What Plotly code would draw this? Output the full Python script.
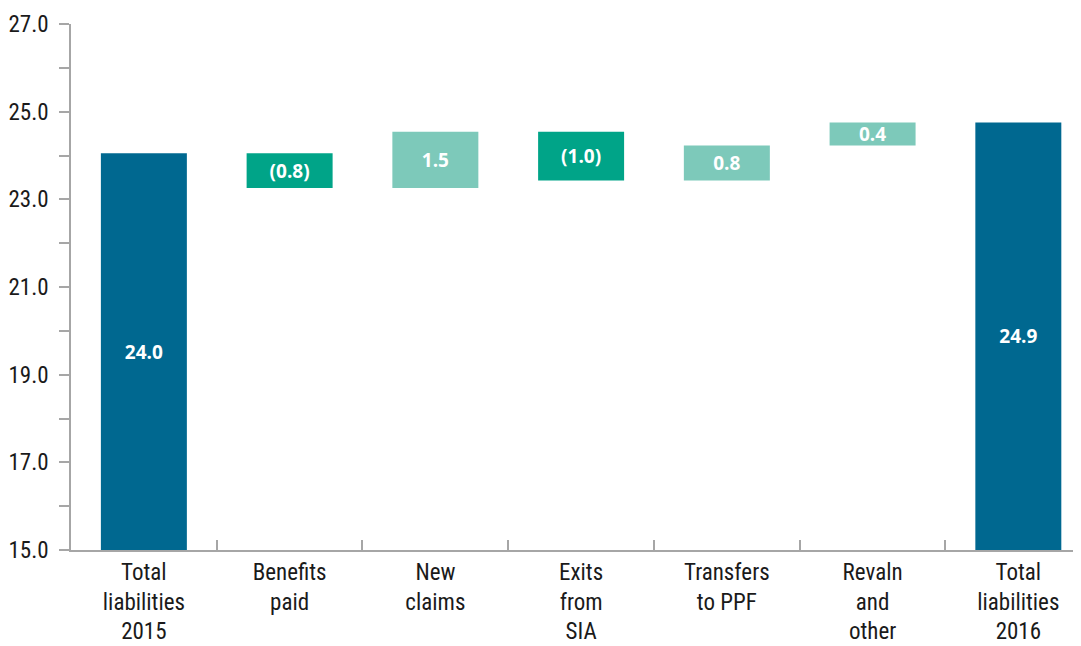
import plotly.graph_objects as go

categories = ["Total<br>liabilities<br>2015", "Benefits<br>paid", "New<br>claims",
              "Exits<br>from<br>SIA", "Transfers<br>to PPF", "Revaln<br>and<br>other",
              "Total<br>liabilities<br>2016"]
start_total = 24.05
changes = [-0.79, 1.28, -1.11, 0.80, 0.52]
labels = ["24.0", "(0.8)", "1.5", "(1.0)", "0.8", "0.4", "24.9"]
axis_floor = 15

y_tickvals = list(range(15, 28))
y_ticktext = [f"{v:.1f}" if (v - 15) % 2 == 0 else "" for v in y_tickvals]

DARK = "#006890"
GREEN = "#00A488"
LIGHT = "#7DC9BA"
AXIS = "#A6A6A6"
TICKFONT = "Roboto Condensed, DejaVu Sans Condensed, sans-serif"

# build bases/heights from the running total
bases, heights, colors = [], [], []
bases.append(axis_floor); heights.append(start_total - axis_floor); colors.append(DARK)
running = start_total
for c in changes:
    if c < 0:
        bases.append(running + c); heights.append(-c); colors.append(GREEN)
    else:
        bases.append(running); heights.append(c); colors.append(LIGHT)
    running += c
bases.append(axis_floor); heights.append(running - axis_floor); colors.append(DARK)

fig = go.Figure(go.Bar(
    x=categories,
    y=heights,
    base=bases,
    marker=dict(color=colors, line=dict(width=0)),
    text=labels,
    textposition="inside",
    insidetextanchor="middle",
    textangle=0,
    constraintext="none",
    textfont=dict(family="Open Sans, sans-serif", size=19, color="white", weight="bold"),
    width=0.59,
    hoverinfo="skip",
))

# page body adds an 8px margin, so the figure margins compensate
fig.update_layout(
    width=1081, height=646,
    margin=dict(l=63, r=8, t=16, b=104),
    plot_bgcolor="white", paper_bgcolor="white",
    showlegend=False,
    xaxis=dict(
        range=[-0.5, 6.43], automargin=False,
        showgrid=False, zeroline=False,
        showline=True, linecolor=AXIS, linewidth=2,
        ticks="inside", tickson="boundaries", ticklen=10, tickcolor=AXIS, tickwidth=1.5,
        tickfont=dict(family=TICKFONT, size=23, color="#1a1a1a"),
    ),
    yaxis=dict(
        range=[15, 27], automargin=False,
        tickvals=y_tickvals, ticktext=y_ticktext,
        showgrid=False, zeroline=False,
        showline=True, linecolor=AXIS, linewidth=1.5,
        ticks="outside", ticklen=10, tickcolor=AXIS, tickwidth=1.5,
        ticklabelstandoff=6,
        tickfont=dict(family=TICKFONT, size=23, color="#1a1a1a"),
    ),
)

fig.write_html("out.html")
